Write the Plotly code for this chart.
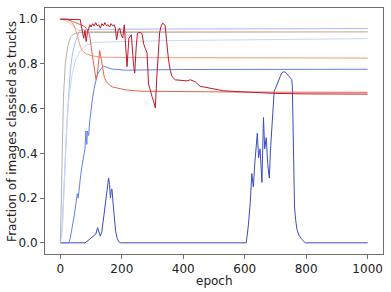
import plotly.graph_objects as go

# ---- data (epoch, fraction) ----
dark_blue_x = [0, 80, 90, 100, 110, 116, 121, 126, 130, 135, 140, 145, 150, 155, 157, 160, 163, 166, 168, 172, 176, 180, 185, 190, 195,
               600, 605, 612, 618, 623, 628, 633, 637, 641, 645, 650, 656, 661, 665, 670, 675, 680, 684, 688, 692, 696, 700, 705, 710,
               716, 721, 727, 732, 737, 743, 748, 753, 755, 757, 759, 762, 766, 770, 776, 786, 797, 1000]
dark_blue_y = [0, 0, 0.01, 0.02, 0.03, 0.04, 0.068, 0.05, 0.03, 0.05, 0.10, 0.15, 0.20, 0.27, 0.29, 0.26, 0.20, 0.24, 0.24, 0.17, 0.10, 0.05, 0.02, 0.005, 0,
               0, 0, 0.08, 0.18, 0.31, 0.25, 0.36, 0.42, 0.49, 0.38, 0.42, 0.27, 0.56, 0.42, 0.47, 0.35, 0.29, 0.42, 0.52, 0.60, 0.68, 0.69, 0.71, 0.73,
               0.745, 0.76, 0.765, 0.763, 0.755, 0.75, 0.74, 0.73, 0.70, 0.50, 0.30, 0.16, 0.10, 0.06, 0.035, 0.015, 0, 0]

mid_blue_x = [0, 27, 32, 38, 45, 50, 55, 58, 62, 66, 70, 75, 80, 83, 86, 88, 92, 96, 100, 105, 110, 115, 120, 130, 141, 150, 168, 211, 400, 1000]
mid_blue_y = [0, 0, 0.02, 0.06, 0.12, 0.17, 0.22, 0.20, 0.26, 0.30, 0.34, 0.38, 0.42, 0.50, 0.44, 0.50, 0.48, 0.55, 0.60, 0.65, 0.69, 0.72, 0.75, 0.775, 0.79, 0.785, 0.777, 0.772, 0.775, 0.776]

light_blue_x = [0, 5, 10, 16, 22, 28, 33, 40, 49, 57, 65, 80, 1000]
light_blue_y = [0, 0.05, 0.20, 0.40, 0.55, 0.68, 0.78, 0.85, 0.90, 0.93, 0.95, 0.955, 0.958]

pale_blue_x = [0, 8, 14, 20, 28, 38, 50, 65, 80, 108, 200, 400, 1000]
pale_blue_y = [0, 0.10, 0.30, 0.50, 0.65, 0.75, 0.82, 0.86, 0.88, 0.896, 0.90, 0.905, 0.913]

gray_x = [0, 3, 5, 10, 16, 24, 33, 45, 60, 1000]
gray_y = [0, 0.2, 0.416, 0.65, 0.80, 0.88, 0.92, 0.935, 0.94, 0.944]

peach_x = [0, 15, 30, 45, 60, 80, 1000]
peach_y = [1.0, 0.995, 0.985, 0.965, 0.95, 0.945, 0.943]

salmon_x = [0, 20, 35, 45, 55, 62, 70, 85, 100, 130, 300, 1000]
salmon_y = [1.0, 1.0, 0.99, 0.97, 0.93, 0.89, 0.86, 0.845, 0.837, 0.83, 0.828, 0.826]

red_x = [0, 20, 40, 60, 75, 85, 95, 103, 110, 116, 120, 125, 128, 132, 138, 143, 150, 160, 170, 190, 211, 260, 400, 600, 1000]
red_y = [1.0, 1.0, 0.99, 0.98, 0.97, 0.96, 0.93, 0.85, 0.78, 0.73, 0.75, 0.82, 0.86, 0.83, 0.78, 0.74, 0.72, 0.705, 0.697, 0.69, 0.684, 0.678, 0.675, 0.674, 0.673]

crimson_x = [0, 22, 65, 68, 72, 76, 80, 84, 88, 92, 96, 100, 105, 110, 115, 120, 125, 130, 135, 140, 145, 150, 155, 160, 165, 170, 175, 179,
             183, 188, 193, 198, 203, 208, 212, 217, 223, 228, 231, 238, 242, 247, 251, 256, 261, 266, 271, 276, 282, 287, 292, 298, 304, 309,
             314, 318, 323, 328, 333, 337, 341, 346, 352, 358, 363, 374, 390, 412, 423, 439, 455, 488, 531, 564, 600, 650, 700, 800, 1000]
crimson_y = [1.0, 1.0, 0.998, 0.97, 0.94, 0.915, 0.95, 0.90, 0.94, 0.96, 0.975, 0.965, 0.98, 0.97, 0.985, 0.97, 0.975, 0.96, 0.98, 0.97, 0.985, 0.97, 0.975, 0.965, 0.98, 0.97, 0.975, 0.96,
             0.907, 0.95, 0.96, 0.93, 0.916, 0.975, 0.90, 0.788, 0.915, 0.924, 0.93, 0.80, 0.759, 0.88, 0.937, 0.94, 0.94, 0.935, 0.89, 0.87, 0.85, 0.71, 0.68, 0.655, 0.63, 0.603,
             0.744, 0.85, 0.94, 0.97, 0.982, 0.978, 0.97, 0.90, 0.818, 0.77, 0.744, 0.729, 0.727, 0.724, 0.729, 0.72, 0.70, 0.692, 0.68, 0.677, 0.675, 0.672, 0.668, 0.666, 0.665]

series = [
    (dark_blue_x, dark_blue_y, "#3b4cc0"),
    (mid_blue_x, mid_blue_y, "#6282ea"),
    (light_blue_x, light_blue_y, "#9ebeff"),
    (pale_blue_x, pale_blue_y, "#c8d8f4"),
    (gray_x, gray_y, "#b3b3b3"),
    (peach_x, peach_y, "#f2c1a9"),
    (salmon_x, salmon_y, "#f4987a"),
    (red_x, red_y, "#e0654f"),
    (crimson_x, crimson_y, "#c0162e"),
]

x_ticks = [0, 200, 400, 600, 800, 1000]
y_ticks = [0.0, 0.2, 0.4, 0.6, 0.8, 1.0]

fig = go.Figure()
for xs, ys, col in series:
    fig.add_trace(go.Scatter(x=xs, y=ys, mode="lines", line=dict(color=col, width=1), showlegend=False, hoverinfo="skip"))

axis_common = dict(showline=True, linecolor="#6e6e6e", linewidth=1, mirror=True, ticks="outside", ticklen=4,
                   tickcolor="#6e6e6e", showgrid=False, zeroline=False,
                   tickfont=dict(family="DejaVu Sans", size=12, color="#222"))

fig.update_layout(
    width=391, height=292, autosize=False,
    margin=dict(l=45, r=8, t=8, b=38),
    plot_bgcolor="white", paper_bgcolor="white",
    xaxis=dict(range=[-50, 1050], tickvals=x_ticks, **axis_common),
    yaxis=dict(range=[-0.05, 1.05], tickvals=y_ticks, tickformat=".1f", **axis_common),
    font=dict(family="DejaVu Sans", size=12, color="#222"),
    annotations=[
        dict(text="epoch", xref="paper", yref="paper", x=0.5, y=-0.11, xanchor="center", yanchor="middle",
             showarrow=False, font=dict(size=12)),
        dict(text="Fraction of images classied as trucks", xref="paper", yref="paper", x=-0.098, y=0.5,
             xanchor="center", yanchor="middle", textangle=-90, showarrow=False, font=dict(size=12)),
    ],
)

fig.write_html("out.html", config={"displayModeBar": False},
               post_script="document.body.style.margin='0';document.body.style.padding='0';")
